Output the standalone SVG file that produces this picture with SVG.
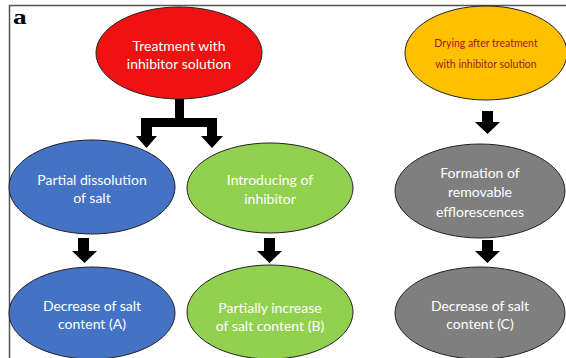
<svg xmlns="http://www.w3.org/2000/svg" width="566" height="358" viewBox="0 0 566 358">
<defs>
<style>
.node ellipse{stroke:#222;stroke-width:1}
.t{font-family:Lato,"Open Sans",sans-serif;font-size:14px;fill:#fff;text-anchor:middle;dominant-baseline:central}
.ty{font-family:Lato,"Open Sans",sans-serif;font-size:10.5px;fill:#9b1c1c;text-anchor:middle;dominant-baseline:central}
.arr{fill:#000}
</style>
</defs>
<rect width="566" height="358" fill="#fff"/>
<path d="M9.5 358V5.5H566" fill="none" stroke="#555" stroke-width="1.5"/>
<text x="13" y="24" font-family="Liberation Serif,serif" font-weight="bold" font-size="21" transform="translate(13 0) scale(1.3 1) translate(-13 0)" fill="#000">a</text>

<g id="connectors" class="arr">
<path d="M175 99H184V118H217V136H223L212 148L201 136H207V127H152V136H157L146.5 148L136 136H141V118H175Z"/>
<path d="M78 238H89V251H97L84.5 263L72 251H78Z"/>
<path d="M264 238H275V251H282L269.5 263L257 251H264Z"/>
<path d="M482 240H493V251H500L487.5 263L475 251H482Z"/>
<path d="M482 111H493V122H500L487.5 134L475 122H482Z"/>
</g>

<g id="n-treatment" class="node">
<ellipse cx="179" cy="53" rx="83" ry="46" fill="#f01212"/>
<text class="t" x="179" y="45">Treatment with</text>
<text class="t" x="179" y="63">inhibitor solution</text>
</g>
<g id="n-drying" class="node">
<ellipse cx="486" cy="53" rx="81" ry="47" fill="#ffc000"/>
<text class="ty" x="486" y="43">Drying after treatment</text>
<text class="ty" x="486" y="64">with inhibitor solution</text>
</g>
<g id="n-dissolution" class="node">
<ellipse cx="92" cy="187" rx="83" ry="47" fill="#4472c4"/>
<text class="t" x="92" y="179">Partial dissolution</text>
<text class="t" x="92" y="197">of salt</text>
</g>
<g id="n-introducing" class="node">
<ellipse cx="270" cy="188" rx="83" ry="45" fill="#92d050"/>
<text class="t" x="270" y="179">Introducing of</text>
<text class="t" x="270" y="198">inhibitor</text>
</g>
<g id="n-formation" class="node">
<ellipse cx="480" cy="191" rx="85" ry="47" fill="#7f7f7f"/>
<text class="t" x="480" y="172">Formation of</text>
<text class="t" x="480" y="191">removable</text>
<text class="t" x="480" y="211">efflorescences</text>
</g>
<g id="n-decreaseA" class="node">
<ellipse cx="92" cy="313" rx="83" ry="46" fill="#4472c4"/>
<text class="t" x="92" y="305">Decrease of salt</text>
<text class="t" x="92" y="323">content (A)</text>
</g>
<g id="n-increaseB" class="node">
<ellipse cx="270" cy="312" rx="83" ry="47" fill="#92d050"/>
<text class="t" x="270" y="307">Partially increase</text>
<text class="t" x="270" y="325">of salt content (B)</text>
</g>
<g id="n-decreaseC" class="node">
<ellipse cx="480" cy="313" rx="85" ry="46" fill="#7f7f7f"/>
<text class="t" x="480" y="305">Decrease of salt</text>
<text class="t" x="480" y="323">content (C)</text>
</g>
</svg>
